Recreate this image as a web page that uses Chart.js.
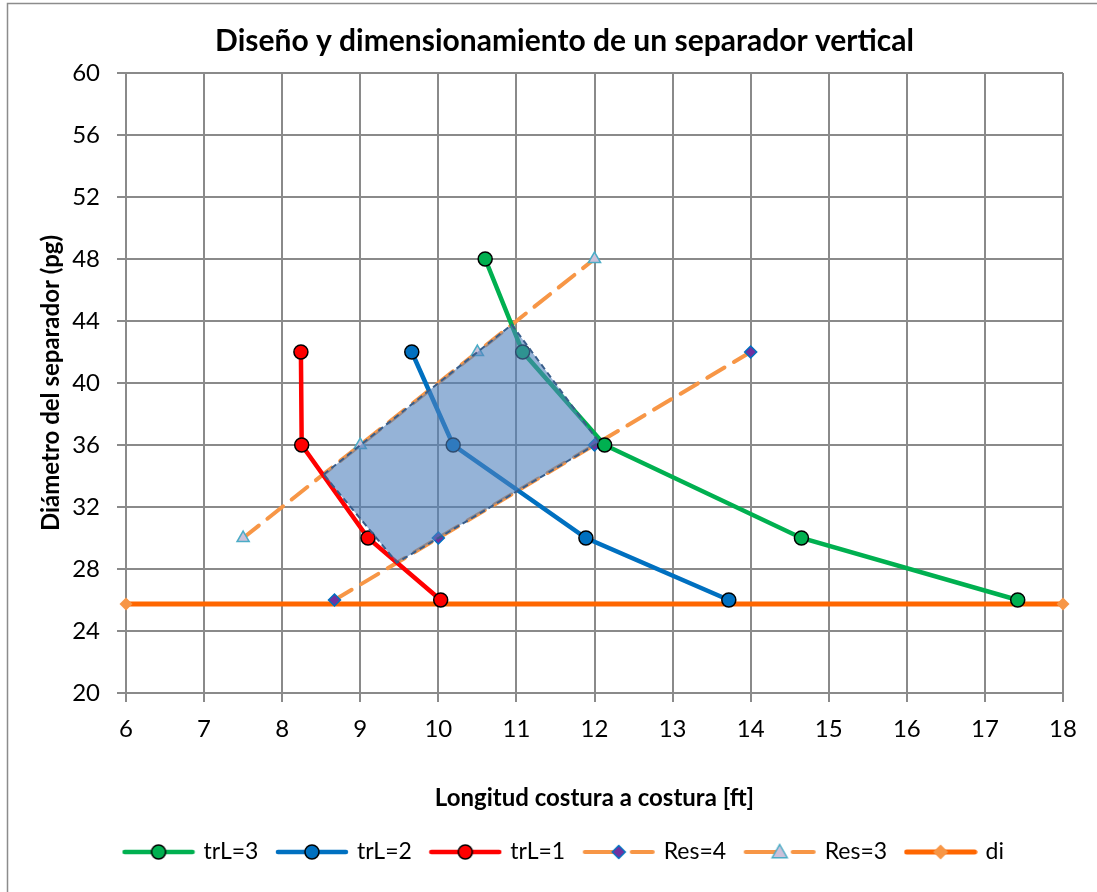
<!DOCTYPE html>
<html>
<head>
<meta charset="utf-8">
<script src="https://cdn.jsdelivr.net/npm/chart.js@4.4.0/dist/chart.umd.min.js"></script>
<style>
  html, body { margin: 0; padding: 0; background: #ffffff; }
  #wrap { width: 1097px; height: 892px; }
</style>
</head>
<body>
<div id="wrap"><canvas id="chart" width="1097" height="892"></canvas></div>
<script>
// Curvas de diseño: longitud costura a costura [ft] vs diámetro [pg]
const trL3X = [10.6, 11.08, 12.13, 14.65, 17.42];
const trL3Y = [48, 42, 36, 30, 26];
const trL2X = [9.66, 10.19, 11.89, 13.72];
const trL2Y = [42, 36, 30, 26];
const trL1X = [8.24, 8.25, 9.1, 10.03];
const trL1Y = [42, 36, 30, 26];
const res4X = [8.67, 10, 12, 14];
const res4Y = [26, 30, 36, 42];
const res3X = [7.5, 9, 10.5, 12];
const res3Y = [30, 36, 42, 48];
const diX = [6, 18];
const diY = [25.75, 25.75];
// zona de diseño aceptable (polígono sombreado)
const zoneX = [8.53, 10.94, 12.06, 9.47, 8.53];
const zoneY = [34.1, 43.76, 36.17, 28.41, 34.1];

const xTicks = { min: 6, max: 18, step: 1 };
const yTicks = { min: 20, max: 60, step: 4 };

const FONT = 'Lato';
const gridColor = '#8a8a8a';
const PAD_LEFT = 66;

function pts(xs, ys) {
    return xs.map((x, i) => ({ x: x, y: ys[i] }));
}

function drawMarker(c, m, x, y) {
    c.save();
    c.setLineDash([]);
    c.fillStyle = m.fill;
    c.strokeStyle = m.stroke;
    c.lineWidth = m.borderWidth;
    c.beginPath();
    if (m.shape === 'circle') {
        c.arc(x, y, m.r, 0, Math.PI * 2);
    } else if (m.shape === 'diamond') {
        c.moveTo(x, y - m.r);
        c.lineTo(x + m.r, y);
        c.lineTo(x, y + m.r);
        c.lineTo(x - m.r, y);
        c.closePath();
    } else if (m.shape === 'triangle') {
        c.moveTo(x, y - m.r);
        c.lineTo(x + m.r, y + m.r * 0.75);
        c.lineTo(x - m.r, y + m.r * 0.75);
        c.closePath();
    }
    c.fill();
    if (m.borderWidth > 0) c.stroke();
    c.restore();
}

// small line+marker picture used as legend symbol
function legendIcon(color, width, dash, marker) {
    const cv = document.createElement('canvas');
    cv.width = 74;
    cv.height = 20;
    const c = cv.getContext('2d');
    c.strokeStyle = color;
    c.lineWidth = width;
    c.lineCap = 'round';
    c.setLineDash(dash);
    c.beginPath();
    c.moveTo(3, 10);
    c.lineTo(71, 10);
    c.stroke();
    drawMarker(c, marker, 37, 10);
    return cv;
}

const mk = {
    trL3: { shape: 'circle', r: 7, fill: '#00B050', stroke: '#000000', borderWidth: 1.5 },
    trL2: { shape: 'circle', r: 7, fill: '#0070C0', stroke: '#000000', borderWidth: 1.5 },
    trL1: { shape: 'circle', r: 7, fill: '#FF0000', stroke: '#000000', borderWidth: 1.5 },
    res4: { shape: 'diamond', r: 6.5, fill: '#7030A0', stroke: '#0070C0', borderWidth: 1.5 },
    res3: { shape: 'triangle', r: 7.5, fill: '#CCC1DA', stroke: '#4BACC6', borderWidth: 1.5 },
    di: { shape: 'diamond', r: 7.5, fill: '#F79646', stroke: '#F79646', borderWidth: 0 }
};

const icons = [
    null,
    legendIcon('#00B050', 4.5, [], mk.trL3),
    legendIcon('#0070C0', 4.5, [], mk.trL2),
    legendIcon('#FF0000', 4.5, [], mk.trL1),
    legendIcon('#F79646', 4, [34, 13], mk.res4),
    legendIcon('#F79646', 4, [34, 13], mk.res3),
    legendIcon('#FF6600', 5, [], mk.di)
];

const framePlugin = {
    id: 'frame',
    beforeDraw(chart) {
        const c = chart.ctx;
        c.save();
        c.fillStyle = '#ffffff';
        c.fillRect(0, 0, chart.width, chart.height);
        c.strokeStyle = '#8c8c8c';
        c.lineWidth = 1.5;
        c.strokeRect(7.5, 3.5, chart.width + 10, chart.height + 10);
        c.restore();
    }
};

const lineSet = (label, xs, ys, color, m) => ({
    label: label,
    data: pts(xs, ys),
    showLine: true,
    clip: false,
    borderColor: color,
    borderWidth: 4.5,
    pointRadius: m.r,
    pointBackgroundColor: m.fill,
    pointBorderColor: m.stroke,
    pointBorderWidth: m.borderWidth,
    pointStyle: 'circle',
    order: 1
});

const config = {
    type: 'scatter',
    data: {
        datasets: [
            {
                label: 'zona',
                data: pts(zoneX, zoneY),
                showLine: true,
                fill: 'shape',
                backgroundColor: 'rgba(79, 129, 189, 0.6)',
                borderColor: '#385D8A',
                borderWidth: 2,
                borderDash: [6, 4],
                pointRadius: 0,
                order: 0
            },
            lineSet('trL=3', trL3X, trL3Y, '#00B050', mk.trL3),
            lineSet('trL=2', trL2X, trL2Y, '#0070C0', mk.trL2),
            lineSet('trL=1', trL1X, trL1Y, '#FF0000', mk.trL1),
            {
                label: 'Res=4',
                data: pts(res4X, res4Y),
                showLine: true,
                clip: false,
                borderColor: '#F79646',
                borderWidth: 4,
                borderDash: [20, 11],
                borderCapStyle: 'round',
                pointStyle: 'rectRot',
                pointRadius: 6,
                pointBackgroundColor: mk.res4.fill,
                pointBorderColor: mk.res4.stroke,
                pointBorderWidth: 1.5,
                order: 1
            },
            {
                label: 'Res=3',
                data: pts(res3X, res3Y),
                showLine: true,
                clip: false,
                borderColor: '#F79646',
                borderWidth: 4,
                borderDash: [20, 11],
                borderCapStyle: 'round',
                pointStyle: 'triangle',
                pointRadius: 7,
                pointBackgroundColor: mk.res3.fill,
                pointBorderColor: mk.res3.stroke,
                pointBorderWidth: 1.5,
                order: 1
            },
            {
                label: 'di',
                data: pts(diX, diY),
                showLine: true,
                clip: false,
                borderColor: '#FF6600',
                borderWidth: 5,
                pointStyle: 'rectRot',
                pointRadius: 6.5,
                pointBackgroundColor: mk.di.fill,
                pointBorderColor: mk.di.fill,
                pointBorderWidth: 0,
                order: 1
            }
        ]
    },
    options: {
        responsive: false,
        animation: false,
        layout: { padding: { left: PAD_LEFT, right: 34, top: 0, bottom: 18.5 } },
        plugins: {
            tooltip: { enabled: false },
            title: {
                display: true,
                text: 'Diseño y dimensionamiento de un separador vertical',
                color: '#000000',
                font: { family: FONT, size: 30, weight: 'bold' },
                padding: { top: 23, bottom: 14 }
            },
            legend: {
                position: 'bottom',
                labels: {
                    usePointStyle: true,
                    pointStyleWidth: 67,
                    padding: 20,
                    color: '#000000',
                    font: { family: FONT, size: 23 },
                    generateLabels(chart) {
                        return chart.data.datasets.map((ds, i) => ({
                            text: ds.label,
                            pointStyle: icons[i],
                            datasetIndex: i,
                            hidden: false,
                            lineWidth: 0,
                            strokeStyle: 'rgba(0,0,0,0)',
                            fillStyle: 'rgba(0,0,0,0)',
                            fontColor: '#000000'
                        })).filter(item => item.pointStyle);
                    }
                }
            }
        },
        scales: {
            x: {
                type: 'linear',
                min: xTicks.min,
                max: xTicks.max,
                ticks: {
                    stepSize: xTicks.step,
                    color: '#000000',
                    font: { family: FONT, size: 24 },
                    padding: 13,
                    maxRotation: 0
                },
                grid: { color: gridColor, lineWidth: 2, tickLength: 9 },
                border: { color: gridColor, width: 2 },
                title: {
                    display: true,
                    text: 'Longitud costura a costura [ft]',
                    color: '#000000',
                    font: { family: FONT, size: 24, weight: 'bold' },
                    padding: { top: 0, bottom: 7.6 }
                },
                afterFit(scale) { scale.height = 127.5; }
            },
            y: {
                type: 'linear',
                min: yTicks.min,
                max: yTicks.max,
                ticks: {
                    stepSize: yTicks.step,
                    color: '#000000',
                    font: { family: FONT, size: 24 },
                    padding: 17
                },
                grid: { color: gridColor, lineWidth: 2, tickLength: 9 },
                border: { color: gridColor, width: 2 },
                title: {
                    display: true,
                    text: 'Diámetro del separador (pg)',
                    color: '#000000',
                    font: { family: FONT, size: 24, weight: 'bold' },
                    // title sits left of the padded area
                    padding: { top: 51 - 14.4 - PAD_LEFT, bottom: 0 }
                },
                afterFit(scale) { scale.width = 126 - PAD_LEFT; }
            }
        }
    },
    plugins: [framePlugin]
};

const chart = new Chart(document.getElementById('chart'), config);
</script>
</body>
</html>
